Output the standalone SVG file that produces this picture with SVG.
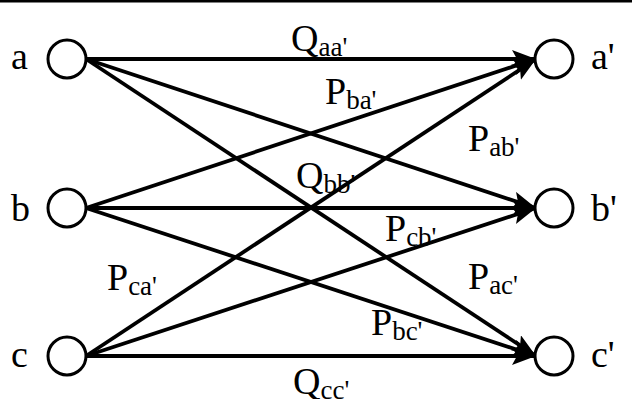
<svg xmlns="http://www.w3.org/2000/svg" width="632" height="399" viewBox="0 0 632 399">
<style>
.n{fill:#fff;stroke:#000;stroke-width:3}
.e{stroke:#000;stroke-width:3.8;fill:none;marker-end:url(#ah)}
text{font-family:"Liberation Serif","Times New Roman",serif;fill:#000}
.t{font-size:38px}
.s{font-size:27px}
</style>
<defs>
<marker id="ah" markerUnits="userSpaceOnUse" markerWidth="26" markerHeight="20" refX="24" refY="9" orient="auto">
<path d="M0,0 L24,9 L0,18 L5,9 Z" fill="#000"/>
</marker>
</defs>
<rect x="0" y="0" width="632" height="2.5" fill="#000"/>
<g id="connectors">
<line class="e" x1="86" y1="59" x2="536" y2="59"/>
<line class="e" x1="86" y1="59" x2="536" y2="208"/>
<line class="e" x1="86" y1="59" x2="536" y2="356"/>
<line class="e" x1="86" y1="208" x2="536" y2="59"/>
<line class="e" x1="86" y1="208" x2="536" y2="208"/>
<line class="e" x1="86" y1="208" x2="536" y2="356"/>
<line class="e" x1="86" y1="356" x2="536" y2="59"/>
<line class="e" x1="86" y1="356" x2="536" y2="208"/>
<line class="e" x1="86" y1="356" x2="536" y2="356"/>
</g>
<g id="node-a"><circle class="n" cx="67" cy="59" r="19"/><text class="t" x="11" y="69">a</text></g>
<g id="node-b"><circle class="n" cx="67" cy="208" r="19"/><text class="t" x="11" y="221">b</text></g>
<g id="node-c"><circle class="n" cx="67" cy="356" r="19"/><text class="t" x="11" y="367">c</text></g>
<g id="node-a2"><circle class="n" cx="554" cy="59" r="19"/><text class="t" x="591" y="69">a'</text></g>
<g id="node-b2"><circle class="n" cx="554" cy="208" r="19"/><text class="t" x="591" y="221">b'</text></g>
<g id="node-c2"><circle class="n" cx="554" cy="356" r="19"/><text class="t" x="591" y="367">c'</text></g>
<g id="labels">
<text x="291" y="51"><tspan class="t">Q</tspan><tspan class="s" dy="5">aa'</tspan></text>
<text x="325" y="104"><tspan class="t">P</tspan><tspan class="s" dy="5">ba'</tspan></text>
<text x="468" y="151"><tspan class="t">P</tspan><tspan class="s" dy="5">ab'</tspan></text>
<text x="296" y="188"><tspan class="t">Q</tspan><tspan class="s" dy="5">bb'</tspan></text>
<text x="385" y="241"><tspan class="t">P</tspan><tspan class="s" dy="5">cb'</tspan></text>
<text x="107" y="290"><tspan class="t">P</tspan><tspan class="s" dy="5">ca'</tspan></text>
<text x="468" y="289"><tspan class="t">P</tspan><tspan class="s" dy="5">ac'</tspan></text>
<text x="371" y="335"><tspan class="t">P</tspan><tspan class="s" dy="5">bc'</tspan></text>
<text x="293" y="394"><tspan class="t">Q</tspan><tspan class="s" dy="5">cc'</tspan></text>
</g>
</svg>
